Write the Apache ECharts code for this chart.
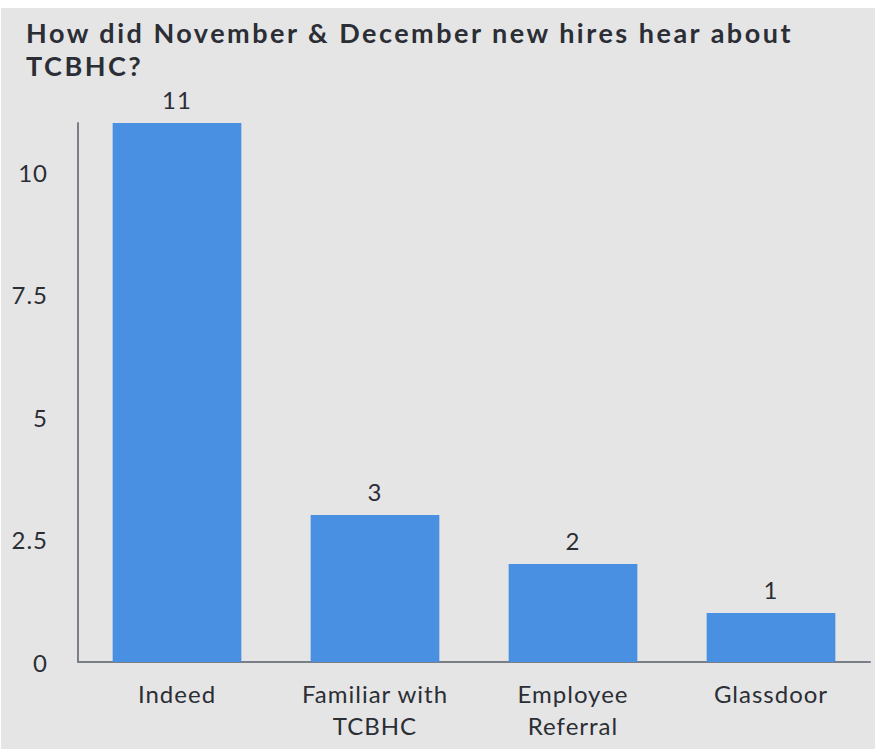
<!DOCTYPE html>
<html>
<head>
<meta charset="utf-8">
<script src="https://cdn.jsdelivr.net/npm/echarts@6/dist/echarts.min.js"></script>
<style>
  html, body { margin: 0; padding: 0; background: #ffffff; }
  #chart {
    position: absolute;
    left: 1px;
    top: 8px;
    width: 874px;
    height: 741px;
    background: #e5e5e5;
  }
  /* the original uses tracked-out lettering */
  #chart svg text { letter-spacing: 1px; }
  #chart svg text[font-weight="bold"],
  #chart svg text[style*="bold"] { letter-spacing: 2.5px; }
</style>
</head>
<body>
<div id="chart"></div>
<script>
// data
const categories = ['Indeed', 'Familiar with\nTCBHC', 'Employee\nReferral', 'Glassdoor'];
const hires = [11, 3, 2, 1];
const yTicks = [0, 2.5, 5, 7.5, 10];

const chart = echarts.init(document.getElementById('chart'), null, { renderer: 'svg' });

const option = {
  title: {
    text: 'How did November & December new hires hear about\nTCBHC?',
    left: 20,
    top: 3,
    textStyle: {
      fontFamily: 'Lato',
      fontWeight: 'bold',
      fontSize: 27,
      lineHeight: 33,
      color: '#2b2e35'
    }
  },
  grid: {
    left: 77,
    right: 5,
    top: 115,
    bottom: 87,
    containLabel: false
  },
  xAxis: {
    type: 'category',
    data: categories,
    axisLine: { lineStyle: { color: '#7a7e86', width: 2 } },
    axisTick: { show: false },
    axisLabel: {
      margin: 15,
      fontFamily: 'Lato',
      fontSize: 24,
      lineHeight: 32,
      color: '#2b2e35'
    }
  },
  yAxis: {
    type: 'value',
    min: 0,
    max: 11,
    interval: 2.5,
    splitLine: { show: false },
    axisTick: { show: false },
    axisLine: { show: true, lineStyle: { color: '#7a7e86', width: 2 } },
    axisLabel: {
      margin: 30,
      fontFamily: 'Lato',
      fontSize: 24,
      color: '#2b2e35',
      formatter: v => (yTicks.includes(v) ? String(v) : '')
    }
  },
  series: [
    {
      type: 'bar',
      data: hires,
      barWidth: '65%',
      itemStyle: { color: '#4a90e2' },
      label: {
        show: true,
        position: 'top',
        distance: 12,
        fontFamily: 'Lato',
        fontSize: 24,
        color: '#2b2e35'
      }
    }
  ]
};

chart.setOption(option);
</script>
</body>
</html>
